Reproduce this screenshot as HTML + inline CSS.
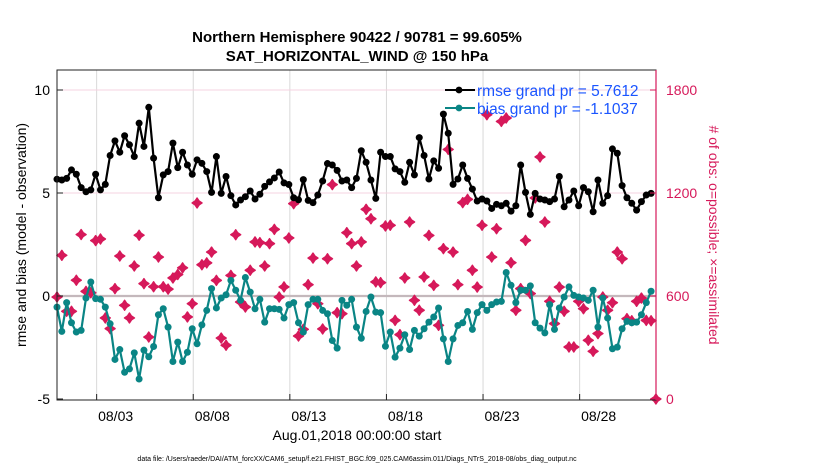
<!DOCTYPE html>
<html><head><meta charset="utf-8"><style>
html,body{margin:0;padding:0;background:#fff;}
svg{display:block;font-family:"Liberation Sans",Arial,sans-serif;}
</style></head><body>
<svg id="chart" width="830" height="470" viewBox="0 0 830 470" xmlns="http://www.w3.org/2000/svg">
<text x="357" y="42" text-anchor="middle" font-size="15" font-weight="bold">Northern Hemisphere 90422 / 90781 = 99.605%</text>
<text x="357" y="61" text-anchor="middle" font-size="15" font-weight="bold">SAT_HORIZONTAL_WIND @ 150 hPa</text>
<g id="grid"></g>
<g id="marks"></g>
<rect x="57" y="70" width="599" height="330" fill="none" stroke="#222" stroke-width="1"/>
<line x1="656" y1="70" x2="656" y2="400" stroke="#d6195a" stroke-width="1.2"/>
<g id="axes"></g>
<g>
<line x1="445" y1="90" x2="475" y2="90" stroke="#000" stroke-width="2"/>
<circle cx="459" cy="90" r="3.4" fill="#000"/>
<text x="477" y="96" font-size="15.5" fill="#1a55ff">rmse grand pr = 5.7612</text>
<line x1="445" y1="108" x2="475" y2="108" stroke="#0a8585" stroke-width="2"/>
<circle cx="459" cy="108" r="3.4" fill="#0a8585"/>
<text x="477" y="114" font-size="15.5" fill="#1a55ff">bias grand pr = -1.1037</text>
</g>
<text transform="translate(26,235) rotate(-90)" text-anchor="middle" font-size="14">rmse and bias (model - observation)</text>
<text transform="translate(709,235) rotate(90)" text-anchor="middle" font-size="14" fill="#d6195a"># of obs: o=possible; ×=assimilated</text>
<text x="357" y="440" text-anchor="middle" font-size="14">Aug.01,2018 00:00:00 start</text>
<text x="357" y="461" text-anchor="middle" font-size="7">data file: /Users/raeder/DAI/ATM_forcXX/CAM6_setup/f.e21.FHIST_BGC.f09_025.CAM6assim.011/Diags_NTrS_2018-08/obs_diag_output.nc</text>
</svg>
<script>
const rmse=[5.67,5.63,5.71,6.12,5.91,5.26,5.06,5.15,5.91,5.15,5.42,6.82,7.53,6.98,7.78,7.34,6.77,8.39,7.26,9.16,6.69,4.77,5.88,6.04,7.42,6.23,6.98,6.36,5.91,6.61,6.44,6.04,5.03,6.77,4.98,5.80,4.87,4.42,4.66,4.82,5.10,4.71,4.94,5.32,5.54,5.73,6.02,5.49,5.41,4.77,4.67,5.65,4.64,4.53,4.90,5.58,6.43,6.36,6.10,5.58,5.63,5.26,5.71,7.05,6.49,5.63,4.74,6.98,6.77,6.77,6.17,6.04,5.52,6.49,5.88,7.69,6.82,5.68,6.56,6.20,8.83,7.90,5.42,5.68,6.36,5.71,5.19,4.61,4.71,4.61,4.25,4.45,4.38,4.50,4.12,4.38,6.36,5.03,3.96,4.98,4.71,4.66,4.58,4.71,5.80,4.33,4.66,5.10,4.38,5.26,5.06,4.09,5.63,4.50,4.87,7.14,6.93,5.36,4.77,4.50,4.17,4.58,4.90,4.98];
const bias=[-0.54,-1.72,-0.32,-1.30,-1.75,-1.67,-0.10,0.68,-0.13,-0.16,-0.54,-1.35,-3.08,-2.60,-3.70,-3.54,-2.76,-4.03,-2.63,-2.95,-2.45,-0.91,-0.62,-1.51,-3.18,-2.24,-3.18,-2.73,-1.59,-2.32,-1.40,-0.70,0.36,-0.58,-0.10,0.06,0.76,0.28,-0.21,0.90,0.19,-0.62,-0.16,-1.27,-0.62,-0.62,-0.65,-1.07,-0.42,-0.32,-1.30,-1.75,-0.42,-0.16,-0.16,-0.70,-0.86,-2.16,-2.53,-0.21,-0.45,-0.16,-1.51,-2.05,-0.75,-0.05,-0.78,-0.81,-2.44,-1.75,-2.97,-2.53,-1.88,-2.60,-1.67,-1.95,-1.59,-1.27,-1.02,-0.58,-2.08,-3.18,-2.08,-1.43,-1.30,-0.75,-1.62,-0.81,-0.42,-0.70,-0.42,-0.29,-0.26,1.14,0.52,-0.32,0.28,0.28,0.49,-1.30,-1.56,-1.79,-0.42,-1.62,-0.58,-0.05,0.44,0.03,-0.05,-0.10,-0.21,0.28,-1.51,-0.10,-1.07,-2.56,-2.48,-1.59,-1.23,-1.30,-1.27,-0.91,-0.32,0.23];
const obsCount=[594,837,511,511,692,958,627,619,923,932,472,410,643,833,546,472,775,954,672,361,654,827,654,640,705,725,764,478,555,1142,782,793,856,691,355,313,720,957,565,536,750,915,911,775,905,988,594,653,938,1138,367,406,666,821,555,408,817,1249,503,497,969,905,775,915,1105,1050,682,678,1008,1012,458,375,705,1031,575,517,711,953,662,429,876,1454,856,666,1144,1163,750,652,1012,1656,827,992,1617,1637,794,517,643,924,614,1171,1410,1031,569,439,652,511,303,303,569,526,342,278,381,594,517,561,856,817,468,456,569,588,458,456,0];
const leftTicks=[10,5,0,-5];
const rightTicks=[1800,1200,600,0];
const xTickDays=[2,7,12,17,22,27];
const xTickLabels=["08/03","08/08","08/13","08/18","08/23","08/28"];

const NS="http://www.w3.org/2000/svg";
const X0=57,STEP=4.83;
function xIdx(i){return X0+STEP*i;}
function xDay(d){return X0+STEP*4*d;}
function yL(v){return 296-20.6*v;}
function yR(c){return 296-(c-600)*103/600;}
function mk(tag,attrs,parent){const e=document.createElementNS(NS,tag);for(const k in attrs)e.setAttribute(k,attrs[k]);parent.appendChild(e);return e;}
const grid=document.getElementById('grid'),marks=document.getElementById('marks'),axes=document.getElementById('axes');

xTickDays.forEach((d,k)=>{
  const x=xDay(d)+1;
  const g=mk('line',{x1:x,y1:70,x2:x,y2:400,stroke:'#d8d8d8','stroke-width':1},grid);
  
  
  mk('line',{x1:x,y1:400,x2:x,y2:394,stroke:'#222'},axes);
  const t=mk('text',{x:x+19,y:421,'text-anchor':'middle','font-size':14},axes);
  t.textContent=xTickLabels[k];
  
  
});
leftTicks.forEach(v=>{
  const y=yL(v);
  if(v>0){const g=mk('line',{x1:57,y1:y,x2:656,y2:y,stroke:'#f6d3e0','stroke-width':1},grid);
    
    }
  mk('line',{x1:57,y1:y,x2:63,y2:y,stroke:'#222'},axes);
  const t=mk('text',{x:50,y:y+5,'text-anchor':'end','font-size':14},axes);
  t.textContent=v;
  
  
});
rightTicks.forEach(c=>{
  const y=yR(c);
  mk('line',{x1:650,y1:y,x2:656,y2:y,stroke:'#d6195a'},axes);
  const t=mk('text',{x:666,y:y+5,'font-size':14,fill:'#d6195a'},axes);
  t.textContent=c;
  
  
});
const zl=mk('line',{x1:57,y1:yL(0),x2:656,y2:yL(0),stroke:'#c4b8bc','stroke-width':2.2},grid);



obsCount.forEach((c,i)=>{
  const x=xIdx(i),y=yR(c);
  const p=mk('path',{d:`M${x-5},${y}L${x-2},${y-2}L${x},${y-5}L${x+2},${y-2}L${x+5},${y}L${x+2},${y+2}L${x},${y+5}L${x-2},${y+2}Z`,fill:'#d6195a',stroke:'#d6195a','stroke-width':1.4,'stroke-linejoin':'round'},marks);
  
  
});
function series(vals,color,name){
  const d=vals.map((v,i)=>(i?'L':'M')+xIdx(i).toFixed(1)+','+yL(v).toFixed(1)).join('');
  const pl=mk('path',{d:d,fill:'none',stroke:color,'stroke-width':2.2,'stroke-linejoin':'round'},marks);
  
  
  vals.forEach((v,i)=>{
    const c=mk('circle',{cx:xIdx(i),cy:yL(v),r:3.5,fill:color},marks);
    
    
  });
}
series(bias,'#0a8585','bias');
series(rmse,'#000','rmse');
</script>
</body></html>
